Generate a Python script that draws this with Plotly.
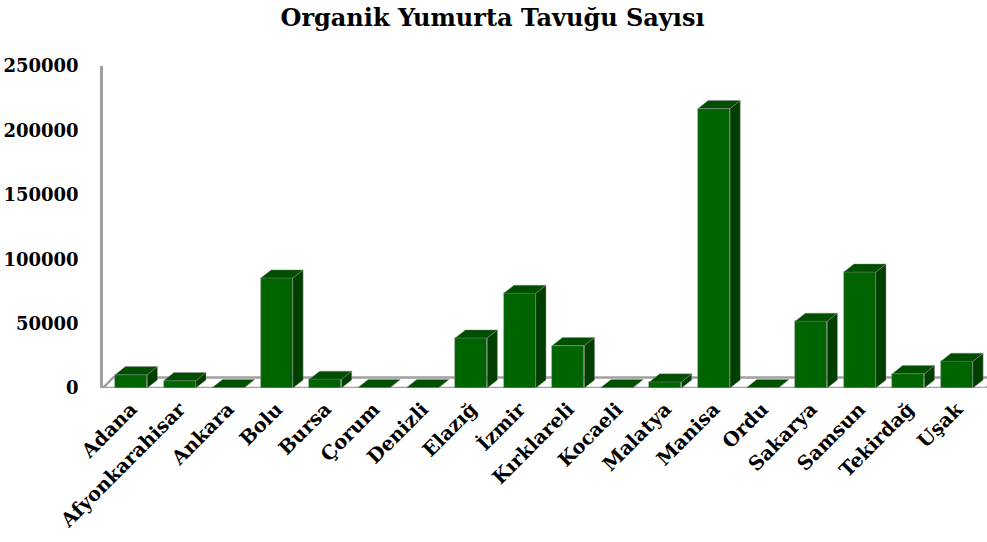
import plotly.graph_objects as go

categories = ["Adana", "Afyonkarahisar", "Ankara", "Bolu", "Bursa", "Çorum", "Denizli",
              "Elazığ", "İzmir", "Kırklareli", "Kocaeli", "Malatya", "Manisa", "Ordu",
              "Sakarya", "Samsun", "Tekirdağ", "Uşak"]
values = [10300, 5700, 300, 85400, 6800, 300, 300, 38800, 73500, 32900, 300, 4700,
          217000, 300, 51800, 90000, 11100, 20700]
y_ticks = [0, 50000, 100000, 150000, 200000, 250000]
title_text = "Organik Yumurta Tavuğu Sayısı"

FRONT = "#006400"
SIDE = "#003f00"
TOP = "#004f00"
EDGE = "rgba(140,140,140,0.7)"
W = 0.66      # front face width (category units)
DX = 0.21     # depth offset in x (category units)
DY = 6300     # depth offset in y (value units)
YFONT = dict(family="DejaVu Serif", size=18, color="black", weight="bold")
XFONT = dict(family="DejaVu Serif", size=19.5, color="black", weight="bold")

xs = list(range(len(categories)))

side_x, side_y, top_x, top_y = [], [], [], []
for i, v in zip(xs, values):
    x0, x1 = i - W / 2, i + W / 2
    side_x += [x1, x1 + DX, x1 + DX, x1, x1, None]
    side_y += [0, DY, v + DY, v, 0, None]
    top_x += [x0, x1, x1 + DX, x0 + DX, x0, None]
    top_y += [v, v, v + DY, v + DY, v, None]

fig = go.Figure()
fig.add_trace(go.Bar(x=xs, y=values, width=W, marker=dict(color=FRONT, line=dict(color=EDGE, width=0.6)),
                     hoverinfo="x+y", showlegend=False))
fig.add_trace(go.Scatter(x=side_x, y=side_y, fill="toself", fillcolor=SIDE, mode="lines",
                         line=dict(color=EDGE, width=0.6), hoverinfo="skip", showlegend=False))
fig.add_trace(go.Scatter(x=top_x, y=top_y, fill="toself", fillcolor=TOP, mode="lines",
                         line=dict(color=EDGE, width=0.6), hoverinfo="skip", showlegend=False))

# floor slab (derived from category count)
xl, xr = -0.58, len(categories) - 0.5 + 0.1
floor_path = (f"M {xl},0 L {xr},0 L {xr + DX},{DY * 1.3} L {xl + DX},{DY * 1.3} Z")
fig.add_shape(type="path", path=floor_path, xref="x", yref="y", layer="below",
              fillcolor="white", line=dict(color="#a0a0a0", width=2.5))

fig.update_layout(
    width=987, height=542,
    margin=dict(l=103, r=0, t=66, b=154),
    paper_bgcolor="white", plot_bgcolor="white",
    title=dict(text=title_text, x=0.499, xref="container", xanchor="center",
               y=1 - 18 / 542, yref="container", yanchor="middle",
               font=dict(family="DejaVu Serif", size=24, color="black", weight="bold")),
    xaxis=dict(range=[-0.58, 17.62], tickmode="array", tickvals=xs, ticktext=categories,
               tickangle=-45, tickfont=XFONT, showgrid=False, zeroline=False, showline=False,
               ticks="", ticklabelstandoff=5, automargin=False),
    yaxis=dict(range=[0, 250000], tickmode="array", tickvals=y_ticks,
               ticktext=[str(t) for t in y_ticks], tickfont=YFONT, showgrid=False,
               zeroline=False, showline=True, linecolor="#a0a0a0", linewidth=2.5,
               ticks="", ticklabelstandoff=18, automargin=False),
    bargap=0,
)

fig.write_html("out.html", config={"displayModeBar": False},
               post_script="document.body.style.margin='0';")
